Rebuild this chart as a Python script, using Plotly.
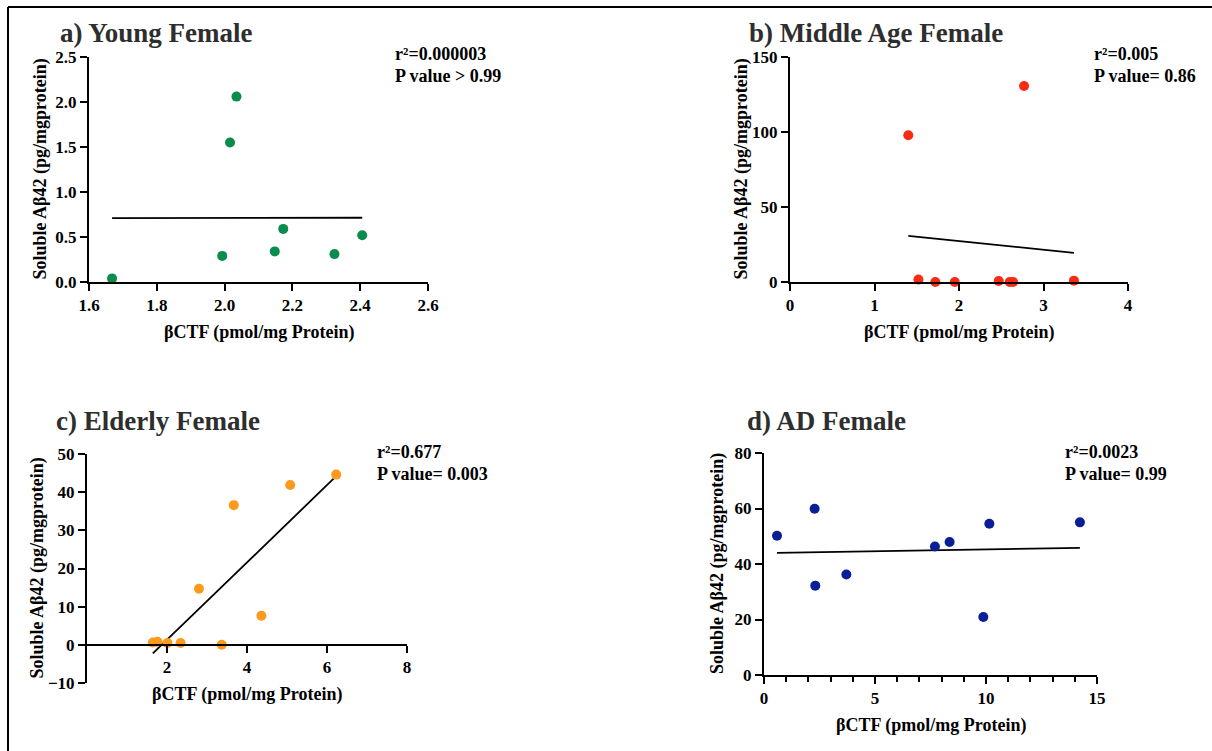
import numpy as np
import plotly.graph_objects as go

# ---- data: βCTF (pmol/mg protein) vs soluble Aβ42 (pg/mg protein) ----
young_x = [1.668, 1.993, 2.016, 2.035, 2.148, 2.173, 2.324, 2.406]
young_y = [0.04, 0.29, 1.55, 2.06, 0.34, 0.59, 0.31, 0.52]

middle_x = [1.40, 2.77, 1.52, 1.72, 1.95, 2.47, 2.60, 2.64, 3.36]
middle_y = [97.8, 130.7, 1.6, 0.0, 0.0, 0.7, 0.0, 0.0, 0.9]

elderly_x = [1.646, 1.76, 2.01, 2.34, 2.80, 3.37, 3.67, 4.36, 5.08, 6.23]
elderly_y = [0.6, 0.8, 0.5, 0.5, 14.7, 0.0, 36.6, 7.6, 41.9, 44.6]

ad_x = [0.586, 2.28, 2.31, 3.71, 7.70, 8.36, 9.88, 10.15, 14.23]
ad_y = [50.2, 59.9, 32.2, 36.2, 46.3, 47.9, 20.9, 54.5, 55.0]

titles = ["a) Young Female", "b) Middle Age Female", "c) Elderly Female", "d) AD Female"]
stats = [("0.000003", "P value > 0.99"), ("0.005", "P value= 0.86"),
         ("0.677", "P value= 0.003"), ("0.0023", "P value= 0.99")]
colors = ["#0b8c4d", "#fb2a14", "#fb9a1c", "#0a1f96"]
x_label = "βCTF (pmol/mg Protein)"
y_label = "Soluble Aβ42 (pg/mgprotein)"

W, H = 1212, 751
SERIF = "Liberation Serif, Times New Roman, serif"


def px_x(v):
    """pixel column -> paper fraction"""
    return v / W


def px_y(v):
    """pixel row -> paper fraction"""
    return 1 - v / H


# panel plot areas in pixels: (left, right, top, bottom)
areas = [(89, 428, 57, 282), (790, 1128, 57, 282),
         (87, 407, 454, 683), (764, 1097, 453, 675)]

fig = go.Figure()

datasets = [(young_x, young_y), (middle_x, middle_y), (elderly_x, elderly_y), (ad_x, ad_y)]
for i, (xs, ys) in enumerate(datasets):
    ax = "" if i == 0 else str(i + 1)
    xa, ya = "x" + ax, "y" + ax
    # least-squares regression line across the observed x span
    slope, icpt = np.polyfit(xs, ys, 1)
    lx = np.array([min(xs), max(xs)])
    fig.add_trace(go.Scatter(x=lx, y=slope * lx + icpt, mode="lines",
                             line=dict(color="black", width=1.8),
                             xaxis=xa, yaxis=ya, showlegend=False,
                             hoverinfo="skip", cliponaxis=False))
    fig.add_trace(go.Scatter(x=xs, y=ys, mode="markers",
                             marker=dict(color=colors[i], size=10),
                             xaxis=xa, yaxis=ya, showlegend=False,
                             cliponaxis=False))

tick_font = dict(family=SERIF, size=17, color="black", weight="bold")
label_font = dict(family=SERIF, size=18, color="black", weight="bold")

axis_common = dict(showline=True, linecolor="black", linewidth=2, ticks="outside",
                   ticklen=7, tickwidth=2, tickcolor="black", showgrid=False,
                   zeroline=False, tickfont=tick_font, automargin=False)

x_specs = [
    dict(range=[1.6, 2.6], tickvals=[1.6, 1.8, 2.0, 2.2, 2.4, 2.6], tickformat=".1f"),
    dict(range=[0, 4], tickvals=[0, 1, 2, 3, 4]),
    dict(range=[0, 8], tickvals=[2, 4, 6, 8]),
    dict(range=[0, 15], tickvals=[0, 5, 10, 15],
         minor=dict(dtick=1, ticks="outside", ticklen=5, tickwidth=2, tickcolor="black")),
]
y_specs = [
    dict(range=[0, 2.5], tickvals=[0, 0.5, 1.0, 1.5, 2.0, 2.5], tickformat=".1f"),
    dict(range=[0, 150], tickvals=[0, 50, 100, 150]),
    dict(range=[-10, 50], tickvals=[-10, 0, 10, 20, 30, 40, 50]),
    dict(range=[0, 80], tickvals=[0, 20, 40, 60, 80]),
]
ytitle_gap = [49, 49, 50, 47]

layout = dict(width=W, height=H, margin=dict(l=0, r=0, t=0, b=0, autoexpand=False),
              paper_bgcolor="white", plot_bgcolor="white",
              font=dict(family=SERIF, color="black"))

xaxis_line_px = []
for i, (l, r, t, b) in enumerate(areas):
    ax = "" if i == 0 else str(i + 1)
    xkey, ykey = "xaxis" + ax, "yaxis" + ax
    xd = dict(axis_common, domain=[px_x(l), px_x(r)], anchor="y" + ax, **x_specs[i])
    yd = dict(axis_common, domain=[px_y(b), px_y(t)], anchor="x" + ax, **y_specs[i])
    line_px = b
    if i == 2:
        # x axis crosses the y axis at zero
        lo, hi = y_specs[i]["range"]
        frac = (0 - lo) / (hi - lo)
        xd["anchor"] = "free"
        xd["position"] = px_y(b) + frac * (px_y(t) - px_y(b))
        line_px = b - frac * (b - t)
    xaxis_line_px.append(line_px)
    layout[xkey] = xd
    layout[ykey] = yd

fig.update_layout(**layout)

# axis titles
for i, (l, r, t, b) in enumerate(areas):
    fig.add_annotation(x=px_x((l + r) / 2), y=px_y(xaxis_line_px[i] + 50),
                       xref="paper", yref="paper", text=x_label, showarrow=False,
                       xanchor="center", yanchor="middle", font=label_font)
    fig.add_annotation(x=px_x(l - ytitle_gap[i]), y=px_y((t + b) / 2),
                       xref="paper", yref="paper", text=y_label, showarrow=False,
                       textangle=-90, xanchor="center", yanchor="middle", font=label_font)

# panel headings
heading_pos = [(58, 33), (747, 33), (54, 421), (745, 421)]
for (hx, hy), txt in zip(heading_pos, titles):
    fig.add_annotation(x=px_x(hx), y=px_y(hy), xref="paper", yref="paper",
                       text=txt, showarrow=False, xanchor="left", yanchor="middle",
                       font=dict(family=SERIF, size=27, color="#2e2e2e", weight="bold"))

# r² / P value labels
stat_pos = [(393, 54), (1092, 54), (375, 452), (1063, 452)]
for (sx, sy), (r2, pv) in zip(stat_pos, stats):
    fig.add_annotation(x=px_x(sx), y=px_y(sy), xref="paper", yref="paper",
                       text="r²=" + r2, showarrow=False,
                       xanchor="left", yanchor="middle", font=label_font)
    fig.add_annotation(x=px_x(sx), y=px_y(sy + 22), xref="paper", yref="paper",
                       text=pv, showarrow=False, xanchor="left", yanchor="middle",
                       font=label_font)

# outer frame: top and left edges
fig.add_shape(type="line", xref="paper", yref="paper",
              x0=px_x(8), x1=1.0, y0=px_y(7), y1=px_y(7),
              line=dict(color="black", width=2))
fig.add_shape(type="line", xref="paper", yref="paper",
              x0=px_x(8), x1=px_x(8), y0=px_y(7), y1=0.0,
              line=dict(color="black", width=2))

fig.write_html("out.html")
